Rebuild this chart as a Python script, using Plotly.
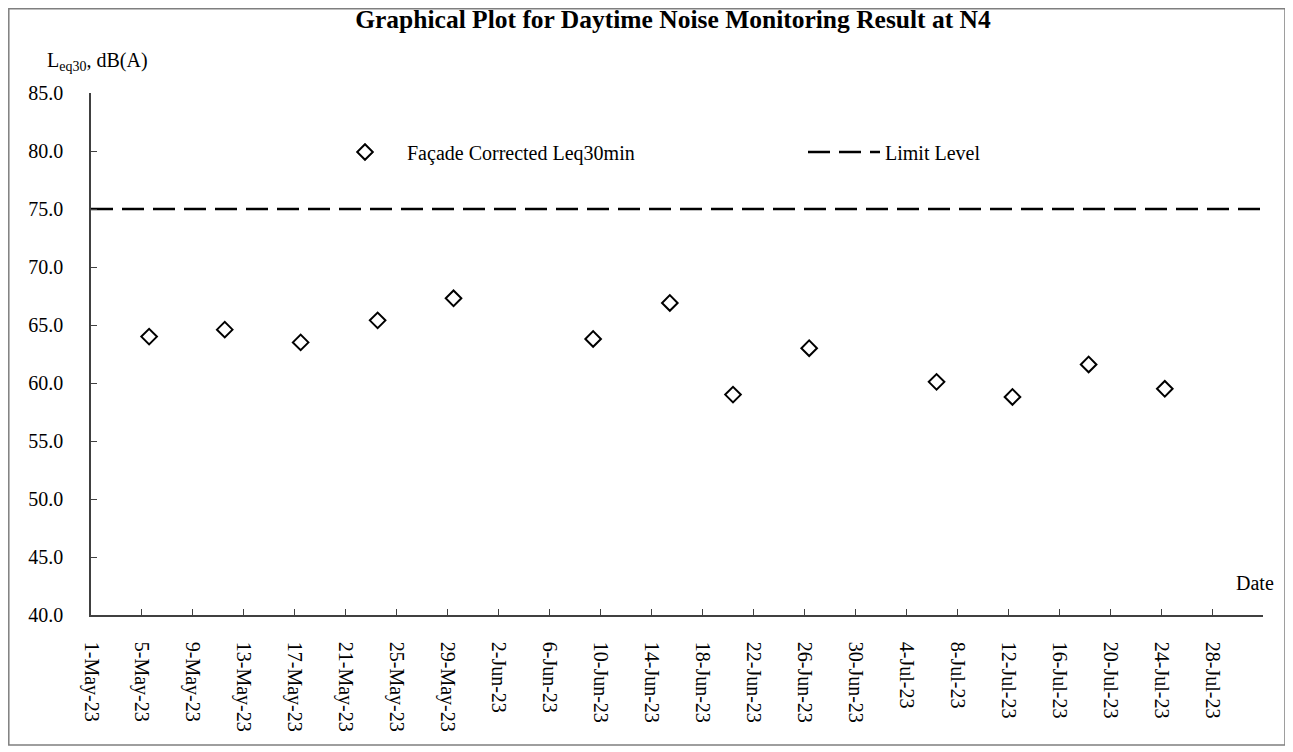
import plotly.graph_objects as go

# ---- data ----
dates = ["2023-05-05 13:30", "2023-05-11 12:00", "2023-05-17 11:00", "2023-05-23 12:00",
         "2023-05-29 11:00", "2023-06-09 10:00", "2023-06-15 10:30", "2023-06-20 09:30",
         "2023-06-26 09:00", "2023-07-06 09:00", "2023-07-12 08:00", "2023-07-18 07:30",
         "2023-07-24 07:00"]
leq = [64.0, 64.6, 63.5, 65.4, 67.3, 63.8, 66.9, 59.0, 63.0, 60.1, 58.8, 61.6, 59.5]

limit_dates = ["2023-05-01", "2023-08-01"]
limit_level = [75.0, 75.0]

tick_vals = ["2023-05-01", "2023-05-05", "2023-05-09", "2023-05-13", "2023-05-17",
             "2023-05-21", "2023-05-25", "2023-05-29", "2023-06-02", "2023-06-06",
             "2023-06-10", "2023-06-14", "2023-06-18", "2023-06-22", "2023-06-26",
             "2023-06-30", "2023-07-04", "2023-07-08", "2023-07-12", "2023-07-16",
             "2023-07-20", "2023-07-24", "2023-07-28", "2023-08-01"]
tick_text = ["1-May-23", "5-May-23", "9-May-23", "13-May-23", "17-May-23", "21-May-23",
             "25-May-23", "29-May-23", "2-Jun-23", "6-Jun-23", "10-Jun-23", "14-Jun-23",
             "18-Jun-23", "22-Jun-23", "26-Jun-23", "30-Jun-23", "4-Jul-23", "8-Jul-23",
             "12-Jul-23", "16-Jul-23", "20-Jul-23", "24-Jul-23", "28-Jul-23", " "]

FONT = "Liberation Serif"
W, H = 1293, 752
OFF = 8  # page body margin
# plot area in page pixels
PX0, PX1, PY0, PY1 = 91, 1263, 93, 615
ML = PX0 - OFF
MR = W - (PX1 - OFF)
MT = PY0 - OFF
MB = H - (PY1 - OFF)
pw = PX1 - PX0
ph = PY1 - PY0

def fx(p):  # page px -> plot-area fraction
    return (p - PX0) / pw

def fy(p):
    return (PY1 - p) / ph

fig = go.Figure()
fig.add_trace(go.Scatter(
    x=dates, y=leq, mode="markers", name="Façade Corrected Leq30min", legend="legend",
    marker=dict(symbol="diamond-open", size=12, color="black", line=dict(width=2, color="black")),
))
fig.add_trace(go.Scatter(
    x=limit_dates, y=limit_level, mode="lines", name="Limit Level", legend="legend2",
    line=dict(color="black", width=2.5, dash="22px,9px"),
))

legfont = dict(family=FONT, size=20, color="black")
fig.update_layout(
    width=W, height=H,
    margin=dict(l=ML, r=MR, t=MT, b=MB),
    paper_bgcolor="white", plot_bgcolor="white",
    font=dict(family=FONT, size=20, color="black"),
    title=dict(text="<b>Graphical Plot for Daytime Noise Monitoring Result at N4</b>",
               x=(673 - OFF) / W, xanchor="center", y=1 - 2 / H, yanchor="top",
               font=dict(family=FONT, size=25.5, color="black")),
    showlegend=True,
    legend=dict(x=fx(323), y=fy(152), xanchor="left", yanchor="middle", itemwidth=74,
                font=legfont, bgcolor="rgba(0,0,0,0)"),
    legend2=dict(x=fx(803), y=fy(152), xanchor="left", yanchor="middle", itemwidth=72,
                 font=legfont, bgcolor="rgba(0,0,0,0)"),
    xaxis=dict(range=["2023-05-01", "2023-08-01"], tickmode="array", tickvals=tick_vals,
               ticktext=tick_text, tickangle=90, ticks="inside", ticklen=6, tickcolor="#404040",
               showline=True, linecolor="#404040", linewidth=1.5, showgrid=False, zeroline=False,
               ticklabelstandoff=21, tickfont=dict(family=FONT, size=20, color="black")),
    yaxis=dict(range=[40, 85], dtick=5, tick0=40, tickformat=".1f", ticks="inside", ticklen=6,
               tickcolor="#404040", showline=True, linecolor="#404040", linewidth=1.5,
               showgrid=False, zeroline=False, ticklabelstandoff=22,
               tickfont=dict(family=FONT, size=20, color="black")),
    shapes=[dict(type="rect", xref="paper", yref="paper",
                 x0=fx(8.8), x1=fx(1285), y0=fy(745), y1=fy(8.8),
                 line=dict(color="#7f7f7f", width=1.5), fillcolor="rgba(0,0,0,0)", layer="below")],
    annotations=[
        dict(text="L<sub>eq30</sub>, dB(A)", xref="paper", yref="paper", x=fx(45), y=fy(62),
             xanchor="left", yanchor="middle", showarrow=False,
             font=dict(family=FONT, size=20, color="black")),
        dict(text="Date", xref="paper", yref="paper", x=fx(1276), y=fy(583),
             xanchor="right", yanchor="middle", showarrow=False,
             font=dict(family=FONT, size=20, color="black")),
    ],
)

fig.write_html("out.html")
